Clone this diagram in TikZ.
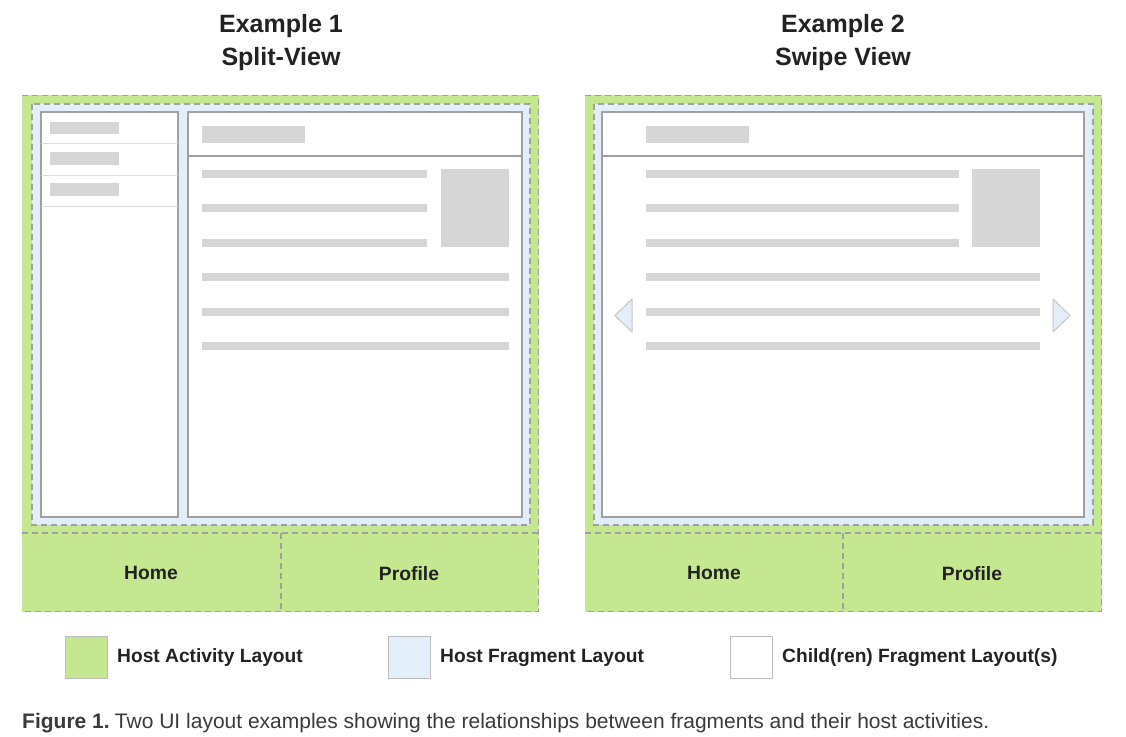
\documentclass[tikz,border=0pt]{standalone}
\usepackage{fontspec}
\setmainfont{Liberation Sans}
\definecolor{hostgreen}{HTML}{C4E890}
\definecolor{hostblue}{HTML}{E3EEFB}
\definecolor{barg}{HTML}{D6D6D6}
\definecolor{edgeg}{HTML}{A0A0A0}
\definecolor{sepg}{HTML}{DDDDDD}
\definecolor{txt}{HTML}{222222}
\definecolor{captxt}{HTML}{3A3A3A}
\tikzset{
  greenbox/.style={fill=hostgreen,draw=none},
  greenedge/.style={draw=edgeg,dash pattern=on 6pt off 4pt,line width=1.1pt},
  bluebox/.style={fill=hostblue,draw=edgeg,dash pattern=on 6pt off 4pt,line width=1.1pt},
  panel/.style={fill=white,draw=edgeg,line width=1.2pt},
  bar/.style={fill=barg,draw=none},
  sep/.style={draw=sepg,line width=1pt},
  hline/.style={draw=edgeg,line width=1.2pt},
  dashsep/.style={draw=edgeg,dash pattern=on 6pt off 4pt,line width=1.1pt},
  title/.style={font=\fontsize{25}{33}\selectfont\bfseries,text=txt,align=center,inner sep=0pt},
  navtxt/.style={font=\fontsize{19.3}{23}\selectfont\bfseries,text=txt,inner sep=0pt},
  legtxt/.style={font=\fontsize{19.2}{23}\selectfont\bfseries,text=txt,anchor=west,inner sep=0pt},
  legbox/.style={draw=edgeg!70,line width=1pt},
  arrowtri/.style={fill=hostblue,draw=edgeg!60,line width=1pt,line join=round},
}
\begin{document}
\begin{tikzpicture}[x=1pt,y=-1pt]
\useasboundingbox[fill=white] (0,0) rectangle (1126,736);

% ---------------- Titles
\node[title] (t1) at (281,43) {Example 1\\Split-View};
\node[title] (t2) at (843,43) {Example 2\\Swipe View};

% ================= Example 1
\path[greenbox] (22,95) rectangle (539,612);
\draw[greenedge] (22,95.5) -- (538.5,95.5) -- (538.5,611.5) -- (22,611.5);
\path[bluebox] (32,104) rectangle (530,525);
\draw[dashsep] (22,533) -- (539,533);
\draw[dashsep] (281,533) -- (281,612);
\node[navtxt] (home1) at (151,573) {Home};
\node[navtxt] (prof1) at (409,574) {Profile};
% left list panel
\path[panel] (41,112) rectangle (178,517);
\draw[sep] (41,143.5) -- (178,143.5);
\draw[sep] (41,175) -- (178,175);
\draw[sep] (41,206) -- (178,206);
\path[bar] (50,122) rectangle (119,134);
\path[bar] (50,152) rectangle (119,165);
\path[bar] (50,183) rectangle (119,196);
% right detail panel
\path[panel] (188,112) rectangle (522,517);
\draw[hline] (188,156) -- (522,156);
\path[bar] (202,126) rectangle (305,143);
\path[bar] (202,170) rectangle (427,178);
\path[bar] (202,204) rectangle (427,212);
\path[bar] (202,239) rectangle (427,247);
\path[bar] (441,169) rectangle (509,247);
\path[bar] (202,273) rectangle (509,281);
\path[bar] (202,308) rectangle (509,316);
\path[bar] (202,342) rectangle (509,350);

% ================= Example 2
\path[greenbox] (585,95) rectangle (1102,612);
\draw[greenedge] (585,95.5) -- (1101.5,95.5) -- (1101.5,611.5) -- (585,611.5);
\path[bluebox] (594,104) rectangle (1093,525);
\draw[dashsep] (585,533) -- (1102,533);
\draw[dashsep] (843,533) -- (843,612);
\node[navtxt] (home2) at (714,573) {Home};
\node[navtxt] (prof2) at (972,574) {Profile};
\path[panel] (602,112) rectangle (1084,517);
\draw[hline] (602,156) -- (1084,156);
\path[bar] (646,126) rectangle (749,143);
\path[bar] (646,170) rectangle (959,178);
\path[bar] (646,204) rectangle (959,212);
\path[bar] (646,239) rectangle (959,247);
\path[bar] (972,169) rectangle (1040,247);
\path[bar] (646,273) rectangle (1040,281);
\path[bar] (646,308) rectangle (1040,316);
\path[bar] (646,342) rectangle (1040,350);
\path[arrowtri] (632,299) -- (615,315.5) -- (632,332) -- cycle;
\path[arrowtri] (1053,299) -- (1070,315.5) -- (1053,332) -- cycle;

% ================= Legend
\path[legbox,fill=hostgreen] (65,636) rectangle (107,678);
\node[legtxt] (l1) at (117,658) {Host Activity Layout};
\path[legbox,fill=hostblue] (388,636) rectangle (430,678);
\node[legtxt] (l2) at (440,658) {Host Fragment Layout};
\path[legbox,fill=white] (730,636) rectangle (772,678);
\node[legtxt] (l3) at (782,658) {Child(ren) Fragment Layout(s)};

% ================= Caption
\node[anchor=base west,inner sep=0pt,text=captxt,font=\fontsize{21}{25}\selectfont] (cap) at (22,728)
  {\textbf{Figure 1.}\hspace{-2.5pt} Two UI layout examples showing the relationships between fragments and their host activities.};
\end{tikzpicture}
\end{document}
